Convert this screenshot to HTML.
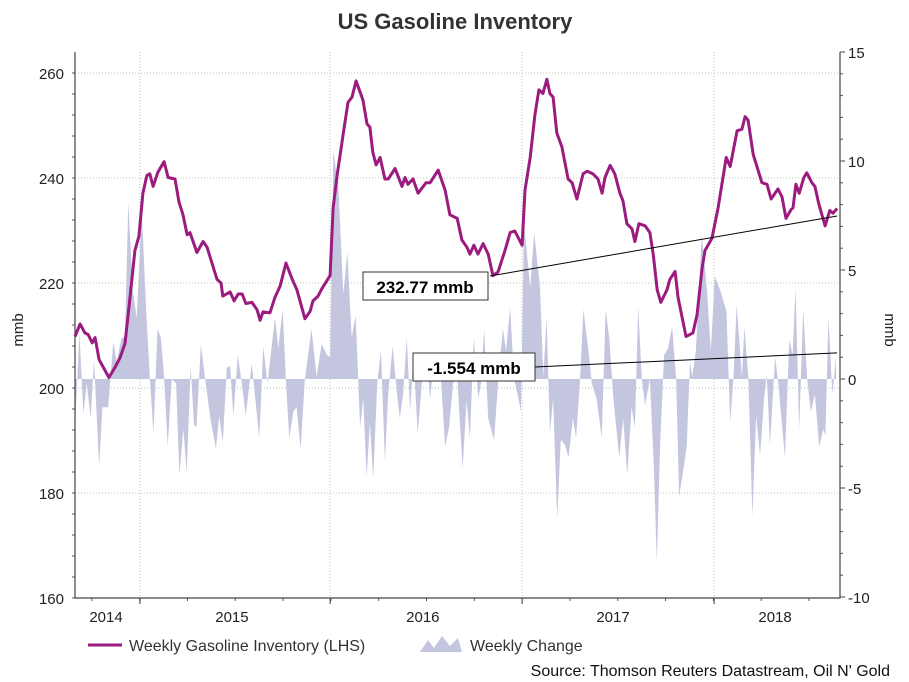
<!DOCTYPE html>
<html><head><meta charset="utf-8"><style>
body{margin:0;background:#fff;}
svg{display:block;font-family:"Liberation Sans",Arial,sans-serif;}
</style></head><body>
<svg id="chart" width="909" height="682" viewBox="0 0 909 682">
<rect width="909" height="682" fill="#fff"/>
<text x="455" y="29" text-anchor="middle" font-size="22" font-weight="bold" fill="#333">US Gasoline Inventory</text>
<g id="grid"></g>
<g id="area"></g>
<g id="axes"></g>
<g id="line"></g>
<g id="annot"></g>
<text x="0" y="0" transform="translate(23,330) rotate(-90)" text-anchor="middle" font-size="15" fill="#222">mmb</text>
<text x="0" y="0" transform="translate(885,330) rotate(90)" text-anchor="middle" font-size="15" fill="#222">mmb</text>
<g>
<line x1="88" y1="645" x2="122" y2="645" stroke="#9b1b7e" stroke-width="3"/>
<text x="129" y="651" font-size="16" fill="#333">Weekly Gasoline Inventory (LHS)</text>
<polygon points="420,652 428,640 434,648 442,636 450,646 458,638 462,652" fill="#c3c6de"/>
<text x="470" y="651" font-size="16" fill="#333">Weekly Change</text>
</g>
<text x="890" y="676" text-anchor="end" font-size="16" fill="#111">Source: Thomson Reuters Datastream, Oil N' Gold</text>
</svg>
<script>
const invWeeks=[0,1.4,2.7,3.6,4.7,5.5,6.6,9.3,11,12.3,13.7,15.1,16.4,17.5,18.6,19.7,20.5,21.4,22.7,24.4,25.5,27.4,28.5,29.6,30.7,31.5,33.4,35.1,36.2,38.9,40,40.5,42.5,43.6,44.7,45.8,46.8,48.5,49.9,50.7,51.5,53.4,54.8,56.2,57.8,59.5,60.8,63,64.4,65.2,66.6,67.7,69.9,70.7,71.8,73.4,74.8,75.9,77,78.9,80,80.8,81.6,82.5,83.6,84.9,85.8,87.7,89.6,90.4,91.2,92.6,94,96.2,97.3,99.5,101.4,102.7,104.7,106,107.4,108.2,109.3,110.4,111.8,113.2,114.5,115.9,117.8,119.2,120.5,122.5,123.3,124.7,126,127.1,128.2,129.3,130.1,131,132,133.4,135.1,136.2,137.5,139.2,140.3,141.9,143.3,144.4,145.2,146.6,147.9,149.3,150.1,151.2,152.6,153.4,154.5,156.2,157.5,158.4,159.5,160.5,162.2,163,164.4,165.2,167.4,169.3,170.4,171.8,172.6,174.5,176.2,178.4,179.5,181.4,182.7,183.6,184.4,185.8,188.2,189.6,190.7,192.6,193.7,194.8,196.2,196.7,197.5,198.4,199.7,200.5,201.9,202.7,203.8,205.5,206.8,207.7,208.8];
const invValues=[209.8,212.2,210.5,210.2,208.6,209.6,205.4,202.0,204.0,205.7,208.5,217.4,226.2,228.9,237.1,240.5,240.8,238.4,241.1,243.1,240.1,239.8,235.4,233.0,229.2,229.6,225.8,227.9,226.8,220.7,220.0,217.5,218.3,216.6,217.9,217.9,216.1,216.3,214.9,212.9,214.5,214.3,217.3,219.4,223.8,220.7,218.7,213.2,214.6,216.6,217.5,219.0,221.4,234.3,240.5,248.0,254.4,255.4,258.5,254.8,250.3,249.7,244.9,242.5,243.9,239.8,239.8,241.8,238.4,240.1,238.8,239.8,237.1,239.1,239.1,241.5,237.7,233.0,232.3,228.2,226.8,225.5,227.2,225.5,227.5,225.5,221.4,222.1,226.2,229.6,229.9,227.2,237.7,243.9,252.0,256.8,256.1,258.8,256.1,255.4,248.6,245.9,239.8,239.1,236.0,240.8,241.3,240.8,239.8,237.1,240.1,242.4,240.8,237.1,235.7,231.3,230.3,227.9,231.3,230.9,229.6,225.5,218.7,216.3,218.7,220.7,222.2,217.3,209.8,210.5,213.9,222.8,226.2,228.5,234.3,243.9,242.2,249.0,249.3,251.7,251.0,244.5,239.1,238.8,236.0,237.9,236.4,232.3,234.0,234.3,238.8,237.1,240.1,241.0,239.1,238.4,235.0,230.9,233.8,233.3,234.2];
const chgWeeks=[0,1.2,2.3,3.2,4.3,5.2,6.6,7.5,9.1,10.5,11.4,12.8,13.7,14.6,15.8,16.9,18.3,19.5,20.5,21.5,22.6,23.5,24.4,25.4,26.5,27.7,28.6,29.7,30.6,31.7,32.6,33.3,34.5,35.6,37,38.6,39.5,40.5,41.6,42.5,43.4,44.6,45.7,46.8,48.4,50.5,51.6,52.7,54.8,55.7,56.9,57.8,58.7,59.8,60.7,61.8,63,64.8,66.2,67.6,69,69.9,70.8,71.7,72.1,73.5,74.6,75.8,76.9,77.6,78.1,79,79.9,80.8,81.7,82.8,83.8,84.9,85.8,87,88.1,89,89.9,90.9,91.8,92.7,93.9,95,96.2,97.3,98.6,100,101.4,102.5,103.6,104.7,106.2,107.3,108.2,109.3,110.5,111.2,112.1,113.2,114.8,116,117.2,118.1,119.2,120.3,121.5,122.2,123,124.7,125.8,127.4,128.3,129.2,130.1,131,132.1,133.1,134.2,135.2,136.4,137.3,138.4,139.3,140.6,141.6,142.9,144.3,145.4,146.4,147.5,149.1,150.2,151.3,152.5,153.4,154.3,155.3,156.2,157.5,158.6,159.4,160.3,161.4,162.5,163.6,164.7,165.5,166.7,167.6,168.5,169.1,170.1,171.7,173.1,174.2,175.3,176.7,178.5,179.5,180.4,181.3,182.7,183.4,184.5,185.6,186.6,187.7,188.8,189.5,190.4,191.8,192.7,194.5,195.7,196.6,197.4,198.4,199.5,200.6,201.6,202.7,203.9,205,205.6,206.4,207.5,208.5];
const chgValues=[-2.2,2.1,-1.6,-0.2,-1.8,0.9,-4.0,-1.3,-1.3,1.7,0.8,1.9,1.9,8.1,4.1,2.8,7.7,3.1,0.1,-2.5,2.3,1.9,0.1,-3.1,0,-0.2,-4.4,-2.3,-4.3,0.6,-2.1,-2.2,1.6,0.1,-1.7,-3.2,-1.7,-2.9,0.5,0.6,-1.7,1.1,-0.2,-1.7,0.7,-2.7,1.5,-0.2,2.8,1.4,3.2,-0.2,-2.7,-1.5,-1.3,-3.2,0,2.3,0.1,1.6,1.1,1.0,10.5,9.3,9.0,3.9,5.8,1.9,2.9,0,-2.2,-0.9,-4.5,-2.0,-4.6,-0.2,1.3,-3.8,-0.7,1.5,-0.5,-1.8,-0.7,1.9,-1.5,1.1,-2.5,-0.2,1.3,-0.9,1.1,0.8,-3.1,-2.2,-0.2,0.1,-4.1,-1.0,-2.7,1.9,-0.9,-0.2,2.3,-1.8,-2.8,0,2.3,1.3,3.3,0,-0.9,-1.5,7.2,4.2,6.7,4.2,0.1,2.8,-2.5,-0.9,-6.4,-2.8,-3.0,-3.6,-1.8,-2.7,0.1,3.2,1.4,-0.2,-0.9,-2.7,3.2,1.8,-0.9,-3.6,-1.8,-4.4,-1.3,-2.2,3.3,0,-1.2,0,-4.1,-8.4,-3.0,1.1,1.4,2.4,0,-5.4,-4.1,-3.1,0.8,0.1,1.3,6.6,4.2,1.3,4.7,4.1,3.1,-2.0,0.1,3.4,0.1,2.4,0,-6.3,-1.7,-3.5,-0.9,0.2,-3.0,1.0,-0.2,-3.6,1.8,1.1,4.2,-2.3,3.2,0,-1.5,-0.7,-3.1,-2.3,-2.6,2.8,-0.7,1.0];
const leftTicks=[160,180,200,220,240,260];
const rightTicks=[-10,-5,0,5,10,15];
const yearLabels=["2014","2015","2016","2017","2018"];
const yearLabelWeeks=[8.5,43,95.3,147.4,191.8];
const yearStartWeeks=[17.8,69.9,122.5,175.1];
const lastInventory="232.77 mmb";
const lastChange="-1.554 mmb";
const annoInvValue=232.77;
const annoChgValue=1.2;

const NS="http://www.w3.org/2000/svg";
const X0=75,X1=840,Y0=52,Y1=598;
function xW(w){return X0+w*3.65;}
function yL(v){return 73+(260-v)*5.25;}
function yR(v){return 379-v*21.8;}
function mk(tag,attrs,parent){const e=document.createElementNS(NS,tag);for(const k in attrs)e.setAttribute(k,attrs[k]);parent.appendChild(e);return e;}
const grid=document.getElementById('grid'),axes=document.getElementById('axes');
leftTicks.forEach(t=>{
  const g=mk('line',{x1:X0,x2:X1,y1:yL(t),y2:yL(t),stroke:'#b8c4b0','stroke-dasharray':'1,2','stroke-width':1},grid);
  
  
  const tx=mk('text',{x:64,y:yL(t)+6,'text-anchor':'end','font-size':15,fill:'#222'},axes);
  tx.textContent=t;
  
  
});
rightTicks.forEach(t=>{
  const tx=mk('text',{x:848,y:yR(t)+6,'font-size':15,fill:'#222'},axes);
  tx.textContent=t;
  
  
  mk('line',{x1:X1,x2:X1+5,y1:yR(t),y2:yR(t),stroke:'#333'},axes);
});
for(let v=-10;v<=15;v+=1){mk('line',{x1:X1,x2:X1+3,y1:yR(v),y2:yR(v),stroke:'#555'},axes);}
for(let v=160;v<=260;v+=4){mk('line',{x1:X0-3,x2:X0,y1:yL(v),y2:yL(v),stroke:'#555'},axes);}
yearStartWeeks.forEach(w=>{
  const g=mk('line',{x1:xW(w),x2:xW(w),y1:Y0,y2:Y1,stroke:'#b8c4b0','stroke-dasharray':'1,2'},grid);
  
  
  mk('line',{x1:xW(w),x2:xW(w),y1:Y1,y2:Y1+6,stroke:'#333'},axes);
});
for(let w=4.6;w<210;w+=13.1){mk('line',{x1:xW(w),x2:xW(w),y1:Y1,y2:Y1+3,stroke:'#555'},axes);}
yearLabels.forEach((l,i)=>{
  const tx=mk('text',{x:xW(yearLabelWeeks[i]),y:622,'text-anchor':'middle','font-size':15,fill:'#222'},axes);
  tx.textContent=l;
  
  
});
const ax=mk('path',{d:`M${X0},${Y0}V${Y1}H${X1}V${Y0}`,fill:'none',stroke:'#444','stroke-width':1.2},axes);


// area
let d=`M${xW(chgWeeks[0])},${yR(0)}`;
chgWeeks.forEach((w,i)=>{d+=`L${xW(w).toFixed(1)},${yR(chgValues[i]).toFixed(1)}`;});
d+=`L${xW(chgWeeks[chgWeeks.length-1])},${yR(0)}Z`;
const ar=mk('path',{d:d,fill:'#c3c6de'},document.getElementById('area'));


// line
const pts=invWeeks.map((w,i)=>xW(w).toFixed(1)+','+yL(invValues[i]).toFixed(1)).join(' ');
const ln=mk('polyline',{points:pts,fill:'none',stroke:'#9b1b7e','stroke-width':3,'stroke-linejoin':'round'},document.getElementById('line'));


// annotations
const an=document.getElementById('annot');
const lastW=invWeeks[invWeeks.length-1];
mk('line',{x1:490,y1:276,x2:xW(lastW),y2:yL(annoInvValue),stroke:'#000','stroke-width':1},an);
mk('line',{x1:535,y1:367,x2:xW(lastW),y2:yR(annoChgValue),stroke:'#000','stroke-width':1},an);
const b1=mk('rect',{x:363,y:272,width:125,height:28,fill:'#fff',stroke:'#333'},an);


const t1=mk('text',{x:425,y:293,'text-anchor':'middle','font-size':17,'font-weight':'bold',fill:'#000'},an);
t1.textContent=lastInventory;


const b2=mk('rect',{x:413,y:353,width:122,height:28,fill:'#fff',stroke:'#333'},an);


const t2=mk('text',{x:474,y:374,'text-anchor':'middle','font-size':17,'font-weight':'bold',fill:'#000'},an);
t2.textContent=lastChange;


</script>
</body></html>
